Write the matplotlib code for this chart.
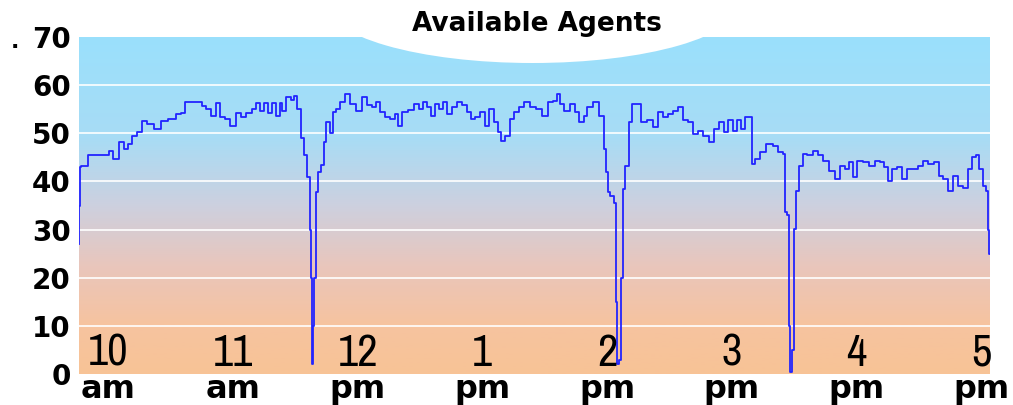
import numpy as np
import matplotlib
matplotlib.use("Agg")
import matplotlib.pyplot as plt
from matplotlib import font_manager
from matplotlib.colors import LinearSegmentedColormap
from matplotlib.patches import Ellipse
from matplotlib.transforms import blended_transform_factory

# ---------------- data: minutes after 10:00 am, available agents ----------------
minutes = [0.0, 0.2, 0.5, 1.4, 4.1, 4.6, 13.4, 13.8, 17.1, 19.4, 21.7, 23.1, 25.4, 27.7,
           30.0, 32.3, 36.9, 38.7, 43.3, 46.1, 47.9, 50.3, 56.2, 57.2, 59.9, 61.8, 64.1,
           66.4, 68.7, 71.0, 73.8, 75.6, 78.4, 80.7, 82.5, 84.8, 86.2, 88.5, 89.9, 92.2,
           93.1, 94.5, 96.8, 98.7, 100.0, 101.4, 103.3, 104.6, 106.0, 107.0, 107.4, 107.9,
           108.3, 108.8, 109.7, 111.1, 112.5, 113.4, 114.8, 116.6, 118.0, 119.4, 121.2,
           124.0, 126.3, 129.5, 131.8, 134.2, 136.5, 137.8, 140.1, 142.4, 144.8, 146.6,
           148.0, 150.3, 153.5, 155.8, 158.1, 159.5, 161.8, 163.2, 165.0, 167.3, 168.7,
           171.0, 173.3, 175.6, 177.9, 180.3, 181.6, 183.9, 186.2, 188.1, 190.4, 192.7,
           194.1, 195.5, 197.8, 199.6, 201.9, 204.2, 206.5, 209.3, 212.1, 215.3, 217.6,
           219.9, 221.3, 222.7, 225.0, 228.2, 229.6, 231.9, 233.7, 235.1, 238.8, 241.1,
           242.9, 243.4, 244.3, 245.7, 247.6, 248.0, 248.5, 249.4, 250.3, 251.2, 252.6,
           254.5, 255.9, 258.2, 260.5, 263.7, 266.0, 268.3, 270.6, 272.9, 275.2, 277.5,
           279.8, 282.1, 284.4, 286.7, 289.0, 291.8, 294.1, 296.4, 298.3, 300.6, 302.9,
           304.3, 306.6, 307.5, 309.8, 310.7, 313.0, 315.3, 318.6, 321.3, 323.6, 325.5,
           325.9, 326.8, 327.8, 328.2, 329.1, 330.1, 331.0, 332.8, 334.7, 337.0, 339.8,
           342.1, 344.4, 347.6, 349.9, 352.2, 354.5, 355.9, 357.7, 360.0, 362.8, 366.0,
           368.3, 370.6, 372.0, 373.9, 376.2, 378.5, 380.8, 383.1, 385.4, 388.2, 390.5,
           392.8, 396.0, 397.4, 399.7, 402.0, 404.3, 406.6, 408.9, 410.8, 413.1, 414.4,
           415.8, 417.7, 418.6, 419.5, 420.0]
agents = [27, 35, 43, 43.3, 43.3, 45.4, 45.5, 46.4, 44.7, 48.1, 46.7, 47.7, 49.5, 50.2,
          52.6, 52.0, 51.0, 52.6, 53.0, 54.0, 54.3, 56.5, 56.5, 55.7, 55.0, 53.6, 56.3,
          53.3, 53.0, 51.6, 54.3, 53.3, 54.3, 55.0, 56.3, 54.7, 56.3, 54.3, 56.3, 53.6,
          56.3, 54.7, 57.6, 57.0, 57.7, 55.0, 49.0, 45.6, 41.0, 30, 20, 2,
          10, 20, 37.9, 42.0, 43.5, 48.2, 52.4, 50.0, 54.4, 55.0, 56.5,
          58.2, 56.1, 54.7, 57.5, 55.8, 55.4, 56.5, 54.4, 53.4, 53.0, 54.0,
          51.6, 54.4, 54.8, 56.1, 55.1, 56.5, 55.4, 53.7, 56.0, 55.0, 56.5,
          54.1, 55.4, 56.5, 55.8, 54.4, 53.0, 53.4, 54.4, 51.6, 55.1, 52.3,
          50.3, 48.4, 49.5, 53.0, 54.4, 55.4, 56.5, 55.4, 55.0, 53.7, 56.5,
          56.8, 58.2, 56.1, 54.7, 56.1, 54.4, 52.4, 53.7, 55.4, 56.5, 53.7,
          46.8, 42.0, 37.9, 36.9, 35.6, 15, 2, 3, 20, 38.5, 43.3,
          52.4, 56.1, 56.1, 52.4, 52.8, 51.3, 54.4, 53.4, 54.1, 54.7, 55.4,
          52.8, 52.4, 49.9, 50.5, 49.5, 48.2, 51.0, 52.4, 50.3, 52.8, 50.5,
          52.8, 51.0, 53.3, 53.3, 43.7, 44.7, 46.2, 47.8, 47.4, 46.2, 45.8,
          33.7, 33.0, 10, 0.5, 5, 30.2, 38.1, 43.3, 45.8, 45.5, 46.4,
          45.5, 44.3, 42.2, 40.6, 43.3, 42.6, 44.0, 41.0, 44.3, 44.0, 43.3,
          44.3, 44.0, 43.0, 40.0, 42.6, 43.0, 40.6, 42.6, 42.6, 43.3, 44.3,
          43.7, 44.0, 41.2, 40.6, 38.1, 41.2, 39.1, 38.7, 42.6, 45.1, 45.5,
          42.6, 39.1, 38.0, 30, 25]

hour_labels = ["10", "11", "12", "1", "2", "3", "4", "5"]
ampm_labels = ["am", "am", "pm", "pm", "pm", "pm", "pm", "pm"]
y_ticks = [0, 10, 20, 30, 40, 50, 60, 70]

# ---------------- fonts ----------------
# the hour numbers are set in a narrow face; take whatever narrow one is installed
names = sorted({f.name for f in font_manager.fontManager.ttflist})
narrow_family = "Liberation Sans"
for key in ["Liberation Sans Narrow", "Narrow", "Condensed"]:
  hits = [n for n in names if key in n]
  if hits:
    narrow_family = hits[0]
    break

# ---------------- figure ----------------
fig = plt.figure(figsize=(10.13, 4.05), dpi=100)
ax = fig.add_axes([0.078, 0.0765, 0.899, 0.832])
ax.set_xlim(0, 420)
ax.set_ylim(0, 70)

# background gradient: sky blue at the top, peach at the bottom
cmap = LinearSegmentedColormap.from_list(
  "bg", [(0.0, "#f8c396"), (0.15, "#f6c3a0"), (0.32, "#e9c6bc"),
         (0.5, "#cdd0df"), (0.7, "#a8dcf5"), (1.0, "#9ae0fc")])
grad = np.linspace(0, 1, 256).reshape(-1, 1)
ax.imshow(grad, cmap=cmap, aspect="auto", origin="lower",
          extent=[0, 420, 0, 70], zorder=0)

# white grid lines
for v in y_ticks[1:-1]:
  ax.axhline(v, color="white", lw=1.4, alpha=0.85, zorder=1)

# white scoop under the title
ax.add_patch(Ellipse((0.498, 1.101), 0.455, 0.356, transform=ax.transAxes,
                     facecolor="white", edgecolor="none", zorder=2))

ax.plot(minutes, agents, color="#2224ff", lw=1.3, drawstyle="steps-mid", zorder=3)

# hour labels
label_pos = np.linspace(13.5, 416, len(hour_labels))
trans = blended_transform_factory(ax.transData, ax.transAxes)
for p, h, s in zip(label_pos, hour_labels, ampm_labels):
  ax.text(p, 1.7, h, ha="center", va="baseline", fontsize=32, zorder=4,
          family=narrow_family)
  ax.text(p, -0.072, s, ha="center", va="baseline", fontsize=23,
          fontweight="bold", transform=trans, clip_on=False)

ax.set_yticks(y_ticks)
ax.set_yticklabels([str(v) for v in y_ticks], fontsize=20, fontweight="bold")
ax.tick_params(axis="y", length=0, pad=6)
ax.set_xticks([])
for sp in ax.spines.values():
  sp.set_visible(False)

fig.text(537 / 1013, 1 - 24 / 405, "Available Agents", ha="center", va="center",
         fontsize=19, fontweight="bold")
fig.text(15 / 1013, 1 - 48 / 405, ".", ha="center", va="baseline", fontsize=16,
         fontweight="bold")

fig.savefig("out.png", dpi=100)
